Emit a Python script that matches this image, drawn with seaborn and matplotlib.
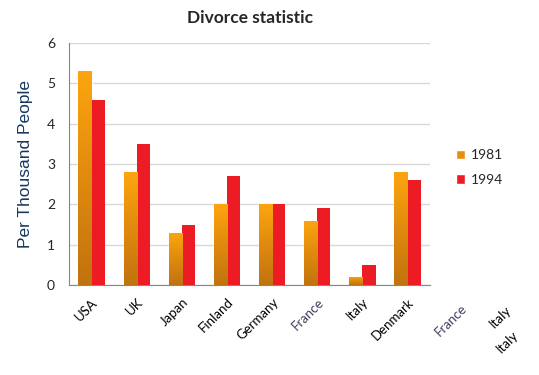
import numpy as np
import pandas as pd
import matplotlib
matplotlib.use("Agg")
import matplotlib.pyplot as plt
import seaborn as sns
from matplotlib.colors import LinearSegmentedColormap
from matplotlib.patches import Patch

# Veriler
countries = ["USA", "UK", "Japan", "Finland", "Germany", "France", "Italy", "Denmark"]
years = ["1981", "1994"]
rate_1981 = [5.3, 2.8, 1.3, 2.0, 2.0, 1.6, 0.2, 2.8]
rate_1994 = [4.6, 3.5, 1.5, 2.7, 2.0, 1.9, 0.5, 2.6]
stray_labels = ["France", "Italy", "Italy"]

df = pd.DataFrame({
    "country": countries * 2,
    "year": [years[0]] * len(countries) + [years[1]] * len(countries),
    "rate": rate_1981 + rate_1994,
})

sns.set_style("white")
plt.rcParams["font.family"] = ["Lato", "DejaVu Sans"]

fig = plt.figure(figsize=(5.39, 3.75), dpi=100)
ax = fig.add_axes([0.128, 0.24, 0.670, 0.645])

palette = {"1981": "#F9A11B", "1994": "#ED1C24"}
sns.barplot(data=df, x="country", y="rate", hue="year", palette=palette,
            width=0.58, saturation=1, ax=ax, legend=False, zorder=3)

# 1981 barlarına turuncu gradyan
cmap = LinearSegmentedColormap.from_list("org", ["#C0730E", "#E08A0E", "#FDA50F"])
grad = np.linspace(0, 1, 256).reshape(-1, 1)
for patch in ax.containers[0]:
    x0, y0 = patch.get_x(), patch.get_y()
    w, h = patch.get_width(), patch.get_height()
    im = ax.imshow(grad, cmap=cmap, origin="lower", aspect="auto",
                   extent=[x0, x0 + w, y0, y0 + h], zorder=4)
    im.set_clip_path(patch)
for patch in ax.containers[1]:
    patch.set_edgecolor("none")

ax.set_xlim(-0.5, len(countries) - 0.5)
ax.set_ylim(0, 6)
ax.set_yticks(range(0, 7))
ax.yaxis.grid(True, color="#D9D9D9", linewidth=1, zorder=0)
ax.set_axisbelow(True)

for s in ["top", "right"]:
    ax.spines[s].set_visible(False)
for s in ["left", "bottom"]:
    ax.spines[s].set_color("#868686")

ax.set_xticks(np.arange(-0.5, len(countries), 1), minor=False)
ax.set_xticklabels([])
ax.set_xticks(range(len(countries)), minor=True)
ax.set_xticklabels(countries, minor=True, rotation=45, ha="right",
                   rotation_mode="anchor", fontsize=9.5)
ax.tick_params(axis="x", which="major", length=5, color="#868686", direction="out")
ax.tick_params(axis="x", which="minor", length=0, pad=8)
ax.tick_params(axis="y", length=4, color="#868686", labelsize=10, pad=6)
for lbl in ax.get_xticklabels(minor=True):
    lbl.set_color("#404060" if lbl.get_text() == "France" else "black")

ax.set_xlabel("")
ax.set_ylabel("Per Thousand People", fontsize=12.5, color="#17375E",
              family=["Liberation Sans", "DejaVu Sans"], labelpad=10)
fig.text(0.463, 0.952, "Divorce statistic", ha="center", va="center",
         fontsize=12.5, fontweight="bold")

handles = [Patch(facecolor="#E8900E", label=years[0]),
           Patch(facecolor=palette["1994"], label=years[1])]
fig.legend(handles=handles, loc="center left", bbox_to_anchor=(0.822, 0.553),
           frameon=False, fontsize=10, handlelength=0.7, handleheight=0.7,
           handletextpad=0.4, labelspacing=0.9)

# Eksen dışında kalan etiketler
pos = [(0.837, 0.147), (0.928, 0.155), (0.941, 0.088)]
for (x, y), t in zip(pos, stray_labels):
    fig.text(x, y, t, rotation=45, ha="center", va="center", fontsize=9.5,
             color="#404060" if t == "France" else "black")

fig.savefig("out.png", dpi=100)
